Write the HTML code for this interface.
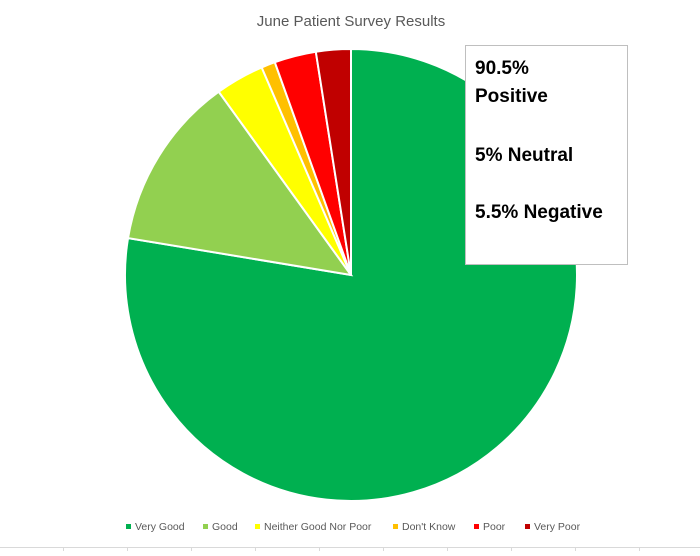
<!DOCTYPE html>
<html><head><meta charset="utf-8"><style>
body{margin:0;background:#fff;width:700px;height:551px;overflow:hidden;font-family:"Liberation Sans",sans-serif}
</style></head><body>
<svg width="700" height="551">
<text x="351" y="26" text-anchor="middle" font-size="15" fill="#595959">June Patient Survey Results</text>
<g id="slices"></g>
<rect x="465.5" y="45.5" width="162" height="219" fill="#fff" stroke="#bfbfbf"/>
<g font-size="19" font-weight="bold" fill="#000">
<text x="475" y="74">90.5%</text><text x="475" y="102">Positive</text>
<text x="475" y="161">5% Neutral</text><text x="475" y="218">5.5% Negative</text></g>
<g id="legend"></g>
<line x1="0" y1="547.5" x2="700" y2="547.5" stroke="#d9d9d9"/>
<g id="ticks" stroke="#d9d9d9"></g>
</svg>
<script>
const categories=["Very Good","Good","Neither Good Nor Poor","Don't Know","Poor","Very Poor"];
const values=[78,12.5,3.5,1,3,2.5];
const colors=["#00b050","#92d050","#ffff00","#ffc000","#ff0000","#c00000"];
const NS="http://www.w3.org/2000/svg";
const cx=351,cy=275,r=226;
const total=values.reduce((a,b)=>a+b,0);
let a0=0;
const g=document.getElementById('slices');
function pt(a){return [cx+r*Math.sin(a),cy-r*Math.cos(a)];}
values.forEach((v,i)=>{
  const a1=a0+v/total*2*Math.PI;
  const [x0,y0]=pt(a0),[x1,y1]=pt(a1);
  const p=document.createElementNS(NS,'path');
  p.setAttribute('d',`M${cx},${cy}L${x0},${y0}A${r},${r} 0 ${a1-a0>Math.PI?1:0} 1 ${x1},${y1}Z`);
  p.setAttribute('fill',colors[i]);p.setAttribute('stroke','#fff');p.setAttribute('stroke-width','2');
  
  
  g.appendChild(p);a0=a1;
});
const lx=[126,203,255,393,474,525];
const lg=document.getElementById('legend');
categories.forEach((c,i)=>{
  const s=document.createElementNS(NS,'rect');
  s.setAttribute('x',lx[i]);s.setAttribute('y',524);s.setAttribute('width',5);s.setAttribute('height',5);s.setAttribute('fill',colors[i]);
  
  
  lg.appendChild(s);
  const t=document.createElementNS(NS,'text');
  t.setAttribute('x',lx[i]+9);t.setAttribute('y',530);t.setAttribute('font-size','10.5');t.setAttribute('fill','#595959');
  t.textContent=c;
  
  
  lg.appendChild(t);
});
const tg=document.getElementById('ticks');
for(let x=63;x<700;x+=64){
  const l=document.createElementNS(NS,'line');
  l.setAttribute('x1',x+.5);l.setAttribute('x2',x+.5);l.setAttribute('y1',547);l.setAttribute('y2',551);
  
  
  tg.appendChild(l);
}
</script>
</body></html>
